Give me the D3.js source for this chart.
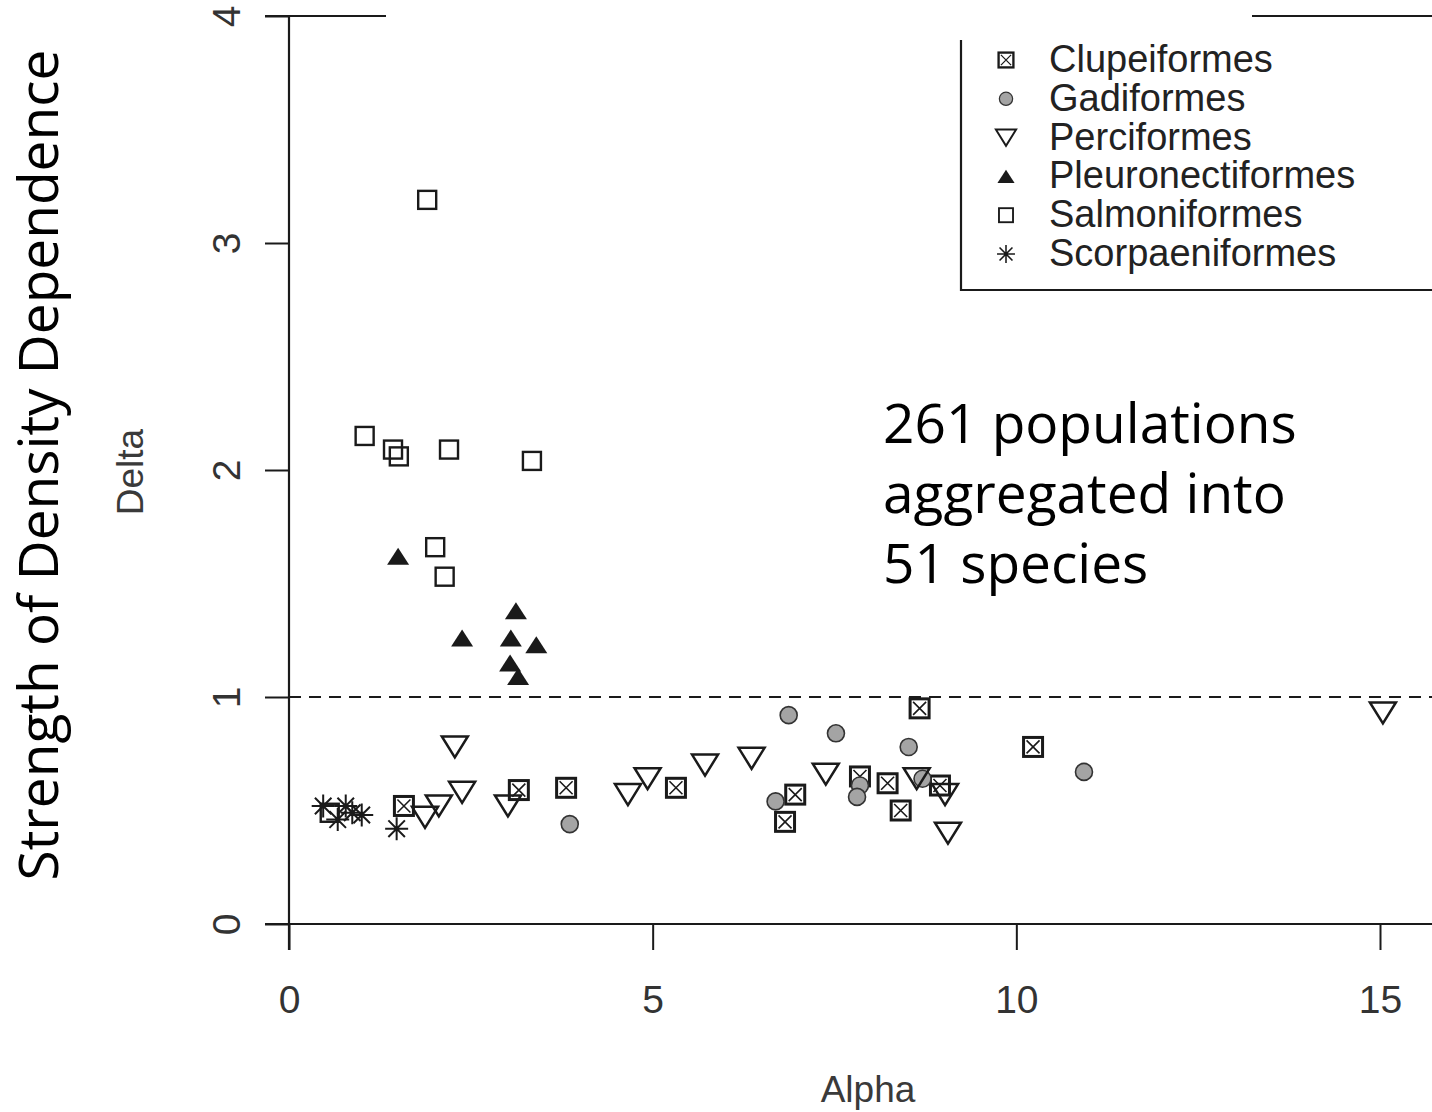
<!DOCTYPE html>
<html>
<head>
<meta charset="utf-8">
<script src="https://cdn.jsdelivr.net/npm/d3@7"></script>
<style>
  body { margin: 0; background: #fff; }
  svg { display: block; }
</style>
</head>
<body>
<svg id="chart" width="1432" height="1112"></svg>
<script>
//////////////////////////
// Data: [alpha, delta] per order
//////////////////////////
let clupeiformes = [
  [1.58,0.52],[3.16,0.59],[3.81,0.60],[5.32,0.60],[6.96,0.57],[6.82,0.45],
  [7.85,0.65],[8.23,0.62],[8.41,0.50],[8.67,0.95],[8.95,0.61],[10.23,0.78]
];
let gadiformes = [
  [3.86,0.44],[6.87,0.92],[7.52,0.84],[8.52,0.78],[6.69,0.54],[7.85,0.61],
  [7.81,0.56],[8.71,0.64],[10.93,0.67]
];
let perciformes = [
  [2.28,0.78],[2.38,0.58],[2.06,0.52],[1.87,0.47],[3.01,0.52],[4.66,0.57],
  [4.93,0.64],[5.72,0.70],[6.36,0.73],[7.38,0.66],[8.63,0.64],[9.02,0.57],
  [9.06,0.40],[15.04,0.93]
];
let pleuronectiformes = [
  [1.50,1.62],[2.38,1.26],[3.12,1.38],[3.05,1.26],[3.40,1.23],[3.04,1.15],[3.15,1.09]
];
let salmoniformes = [
  [1.90,3.19],[1.04,2.15],[1.43,2.09],[1.51,2.06],[2.20,2.09],[3.34,2.04],
  [2.01,1.66],[2.14,1.53],[0.56,0.49]
];
let scorpaeniformes = [
  [0.47,0.52],[0.67,0.46],[0.78,0.52],[0.87,0.49],[1.00,0.48],[1.48,0.42]
];

let legendNames = ["Clupeiformes","Gadiformes","Perciformes","Pleuronectiformes","Salmoniformes","Scorpaeniformes"];
let xTicks = [0, 5, 10, 15];
let yTicks = [0, 1, 2, 3, 4];
let refLine = 1;
let noteLines = ["261 populations", "aggregated into", "51 species"];

//////////////////////////
// Setup
//////////////////////////
let svg = d3.select("#chart");
let ink = "#1a1a1a";
let rFont = "'Liberation Sans', Arial, sans-serif";

let xScale = d3.scaleLinear().domain([0, 15]).range([289, 1380]);
let yScale = d3.scaleLinear().domain([0, 4]).range([924, 16]);

//////////////////////////
// Markers
//////////////////////////
function drawMarker(g, type, k){
  if (type === "boxX") {
    let s = 19 * k, h = s / 2, d = h - 3 * k;
    g.append("rect").attr("x", -h).attr("y", -h).attr("width", s).attr("height", s)
      .attr("fill", "none").attr("stroke", ink).attr("stroke-width", 3 * k);
    g.append("path").attr("d", `M${-d},${-d}L${d},${d}M${-d},${d}L${d},${-d}`)
      .attr("stroke", ink).attr("stroke-width", 1.6 * k);
  } else if (type === "circle") {
    g.append("circle").attr("r", 8.5 * k)
      .attr("fill", "#a4a4a4").attr("stroke", "#333").attr("stroke-width", 1.6 * k);
  } else if (type === "triDown") {
    g.append("path").attr("d", `M${-13*k},${-10.5*k}L${13*k},${-10.5*k}L0,${10.5*k}Z`)
      .attr("fill", "none").attr("stroke", ink).attr("stroke-width", 2.5 * k);
  } else if (type === "triUp") {
    g.append("path").attr("d", `M${-11*k},${8.5*k}L${11*k},${8.5*k}L0,${-8.5*k}Z`)
      .attr("fill", ink);
  } else if (type === "square") {
    let s = 18 * k;
    g.append("rect").attr("x", -s/2).attr("y", -s/2).attr("width", s).attr("height", s)
      .attr("fill", "none").attr("stroke", ink).attr("stroke-width", 2.4 * k);
  } else if (type === "star") {
    let r = 11.5 * k, q = r * 0.72;
    g.append("path")
      .attr("d", `M${-r},0L${r},0M0,${-r}L0,${r}M${-q},${-q}L${q},${q}M${-q},${q}L${q},${-q}`)
      .attr("stroke", ink).attr("stroke-width", 2 * k);
  }
}

let series = [
  {data: clupeiformes, type: "boxX"},
  {data: gadiformes, type: "circle"},
  {data: perciformes, type: "triDown"},
  {data: pleuronectiformes, type: "triUp"},
  {data: salmoniformes, type: "square"},
  {data: scorpaeniformes, type: "star"}
];

//////////////////////////
// Axes
//////////////////////////
let xAxis = svg.append("g")
  .attr("transform", `translate(0,${yScale(0)})`)
  .call(d3.axisBottom(xScale).tickValues(xTicks).tickSize(26).tickFormat(d3.format("d")));
xAxis.select(".domain").remove();
xAxis.selectAll(".tick line").attr("stroke", ink).attr("stroke-width", 2);
xAxis.selectAll(".tick text")
  .attr("y", 89).attr("dy", 0)
  .attr("font-family", rFont).attr("font-size", 39).attr("fill", "#333");

let yAxis = svg.append("g")
  .attr("transform", `translate(${xScale(0)},0)`)
  .call(d3.axisLeft(yScale).tickValues(yTicks).tickSize(24).tickFormat(d3.format("d")));
yAxis.select(".domain").remove();
yAxis.selectAll(".tick line").attr("stroke", ink).attr("stroke-width", 2);
yAxis.selectAll(".tick text")
  .attr("x", 0).attr("y", -49).attr("dy", 0)
  .attr("transform", "rotate(-90)")
  .attr("text-anchor", "middle")
  .attr("font-family", rFont).attr("font-size", 39).attr("fill", "#333");

// frame lines (top is partly hidden in the original)
svg.append("line")
  .attr("x1", 265).attr("x2", 1432).attr("y1", yScale(0)).attr("y2", yScale(0))
  .attr("stroke", ink).attr("stroke-width", 2.2);
svg.append("line")
  .attr("x1", xScale(0)).attr("x2", xScale(0)).attr("y1", yScale(4)).attr("y2", yScale(0) + 26)
  .attr("stroke", ink).attr("stroke-width", 2.2);
svg.append("line")
  .attr("x1", 265).attr("x2", 386).attr("y1", yScale(4)).attr("y2", yScale(4))
  .attr("stroke", ink).attr("stroke-width", 2.2);
svg.append("line")
  .attr("x1", 1252).attr("x2", 1432).attr("y1", yScale(4)).attr("y2", yScale(4))
  .attr("stroke", ink).attr("stroke-width", 2.2);

// dashed reference line
svg.append("line")
  .attr("x1", xScale(0)).attr("x2", 1432).attr("y1", yScale(refLine)).attr("y2", yScale(refLine))
  .attr("stroke", ink).attr("stroke-width", 2.2).attr("stroke-dasharray", "12,8");

//axis titles
svg.append("text")
  .attr("x", 868).attr("y", 1102)
  .attr("text-anchor", "middle")
  .attr("font-family", rFont).attr("font-size", 37).attr("fill", "#3a3a3a")
  .text("Alpha");

svg.append("text")
  .attr("transform", "translate(143,472) rotate(-90)")
  .attr("text-anchor", "middle")
  .attr("font-family", rFont).attr("font-size", 37).attr("fill", "#3a3a3a")
  .text("Delta");

svg.append("text")
  .attr("transform", "translate(58,465) rotate(-90)")
  .attr("text-anchor", "middle")
  .attr("font-family", "'Open Sans', sans-serif").attr("font-size", 55).attr("fill", "#000")
  .text("Strength of Density Dependence");

//////////////////////////
// Points
//////////////////////////
series.forEach(s => {
  svg.append("g").selectAll("g")
    .data(s.data)
    .enter()
    .append("g")
    .attr("transform", d => `translate(${xScale(d[0])},${yScale(d[1])})`)
    .each(function(){ drawMarker(d3.select(this), s.type, 1); });
});

//////////////////////////
// Legend
//////////////////////////
let legend = svg.append("g");
legend.append("path")
  .attr("d", "M961,40L961,290L1432,290")
  .attr("fill", "none").attr("stroke", ink).attr("stroke-width", 2.2);

legendNames.forEach((name, i) => {
  let by = 72 + i * 38.8;
  let m = legend.append("g").attr("transform", `translate(1006,${by - 12})`);
  drawMarker(m, series[i].type, 0.78);
  legend.append("text")
    .attr("x", 1049).attr("y", by)
    .attr("font-family", rFont).attr("font-size", 38).attr("fill", "#222")
    .text(name);
});

//////////////////////////
// Annotation
//////////////////////////
noteLines.forEach((t, i) => {
  svg.append("text")
    .attr("x", 883).attr("y", 443 + i * 70)
    .attr("font-family", "'Open Sans', sans-serif").attr("font-size", 55).attr("fill", "#000")
    .text(t);
});
</script>
</body>
</html>
